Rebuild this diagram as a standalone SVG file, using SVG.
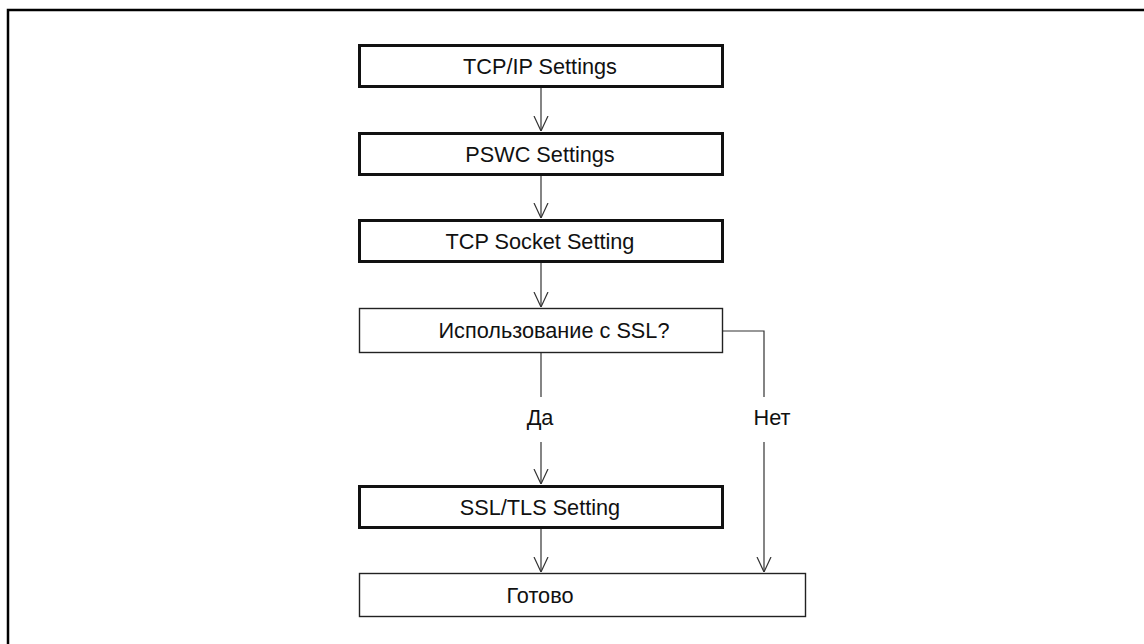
<svg xmlns="http://www.w3.org/2000/svg" width="1144" height="644" viewBox="0 0 1144 644">
<style>
.frame{fill:none;stroke:#000;stroke-width:2.5}
.thick{fill:#fff;stroke:#111;stroke-width:3}
.thin{fill:#fff;stroke:#222;stroke-width:1.4}
.lbl{font-family:"Liberation Sans",Arial,sans-serif;font-size:21.7px;fill:#111;text-anchor:middle}
.conn{fill:none;stroke:#333;stroke-width:1.2}
</style>
<defs>
<marker id="arr" viewBox="0 0 15 16" refX="15" refY="8" markerWidth="15" markerHeight="16" markerUnits="userSpaceOnUse" orient="auto">
<path d="M0,1 L15,8 L0,15" fill="none" stroke="#333" stroke-width="1.2"/>
</marker>
</defs>
<rect width="1144" height="644" fill="#fff"/>
<rect class="frame" x="8" y="10" width="1160" height="660"/>
<g id="connectors">
<line class="conn" x1="541" y1="88" x2="541" y2="131" marker-end="url(#arr)"/>
<line class="conn" x1="541" y1="176" x2="541" y2="218" marker-end="url(#arr)"/>
<line class="conn" x1="541" y1="263" x2="541" y2="307" marker-end="url(#arr)"/>
<line class="conn" x1="541" y1="353" x2="541" y2="397"/>
<line class="conn" x1="541" y1="442" x2="541" y2="484" marker-end="url(#arr)"/>
<line class="conn" x1="541" y1="529" x2="541" y2="572" marker-end="url(#arr)"/>
<polyline class="conn" points="723,331 764,331 764,397"/>
<line class="conn" x1="764" y1="442" x2="764" y2="572" marker-end="url(#arr)"/>
<text class="lbl" x="540" y="425">Да</text>
<text class="lbl" x="772" y="425">Нет</text>
</g>
<g id="n1">
<rect class="thick" x="359.5" y="45.5" width="363" height="41"/>
<text class="lbl" x="540" y="74">TCP/IP Settings</text>
</g>
<g id="n2">
<rect class="thick" x="359.5" y="133.5" width="363" height="41"/>
<text class="lbl" x="540" y="162">PSWC Settings</text>
</g>
<g id="n3">
<rect class="thick" x="359.5" y="220.5" width="363" height="41"/>
<text class="lbl" x="540" y="249">TCP Socket Setting</text>
</g>
<g id="n4">
<rect class="thin" x="359.5" y="308.5" width="363" height="44"/>
<text class="lbl" x="554" y="338">Использование с SSL?</text>
</g>
<g id="n5">
<rect class="thick" x="359.5" y="486.5" width="363" height="41"/>
<text class="lbl" x="540" y="515">SSL/TLS Setting</text>
</g>
<g id="n6">
<rect class="thin" x="359.5" y="573.5" width="446" height="43"/>
<text class="lbl" x="540" y="603">Готово</text>
</g>
</svg>
